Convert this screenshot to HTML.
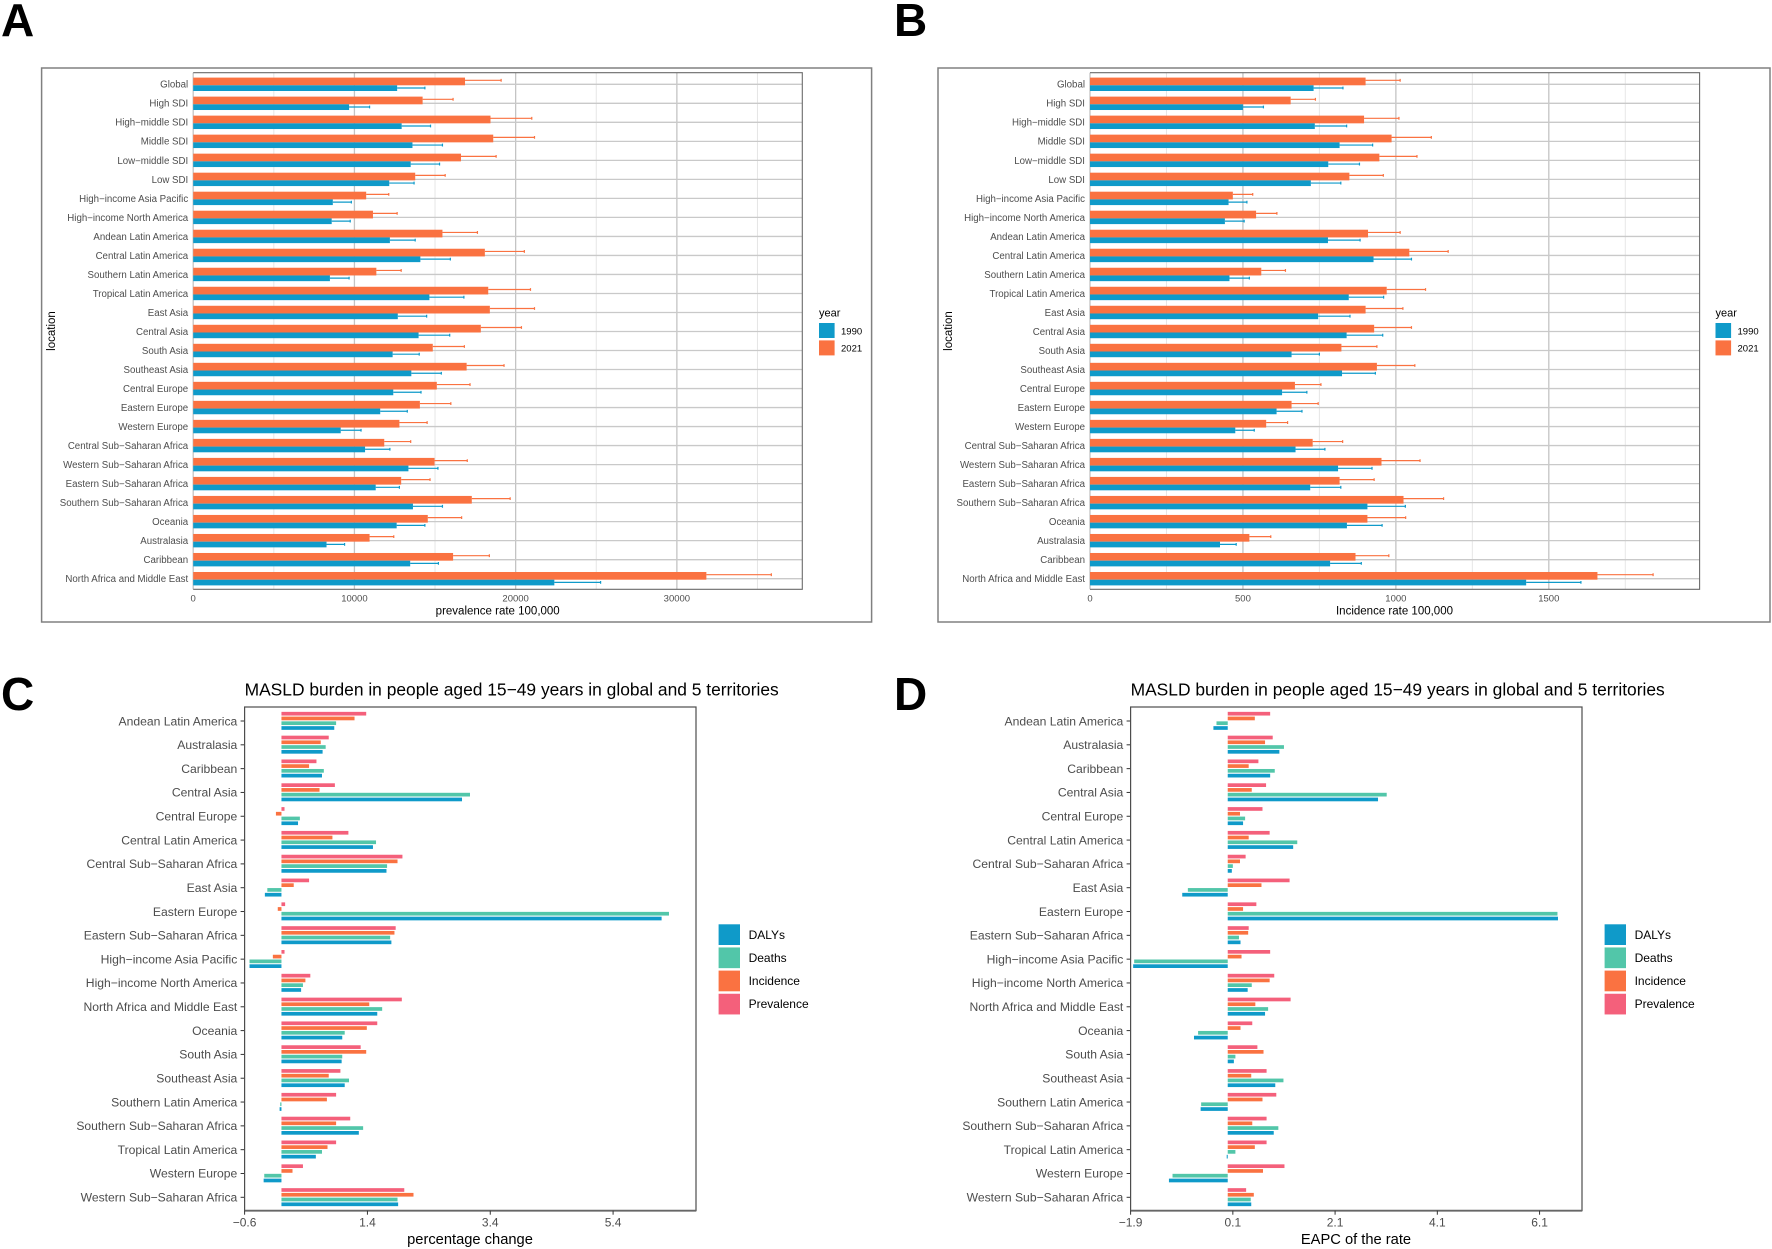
<!DOCTYPE html>
<html lang="en">
<head>
<meta charset="utf-8">
<title>MASLD burden charts</title>
<style>
html,body{margin:0;padding:0;background:#fff;overflow:hidden;}
svg{display:block;font-family:"Liberation Sans",Arial,sans-serif;filter:blur(0.3px);}
</style>
</head>
<body>
<svg id="figure" xmlns="http://www.w3.org/2000/svg" width="1772" height="1249" viewBox="0 0 1772 1249">
<rect x="0" y="0" width="1772" height="1249" fill="#fff"/>
<text x="1" y="36" font-size="46" font-weight="bold" fill="#000">A</text>
<text x="894" y="36" font-size="46" font-weight="bold" fill="#000">B</text>
<text x="1" y="710" font-size="46" font-weight="bold" fill="#000">C</text>
<text x="894" y="710" font-size="46" font-weight="bold" fill="#000">D</text>
<rect x="41.6" y="68" width="830" height="554" fill="none" stroke="#808080" stroke-width="1.5"/>
<rect x="938" y="68" width="832" height="554" fill="none" stroke="#808080" stroke-width="1.5"/>
</svg>
<script>
const categoriesAB = ["Global","High SDI","High−middle SDI","Middle SDI","Low−middle SDI","Low SDI","High−income Asia Pacific","High−income North America","Andean Latin America","Central Latin America","Southern Latin America","Tropical Latin America","East Asia","Central Asia","South Asia","Southeast Asia","Central Europe","Eastern Europe","Western Europe","Central Sub−Saharan Africa","Western Sub−Saharan Africa","Eastern Sub−Saharan Africa","Southern Sub−Saharan Africa","Oceania","Australasia","Caribbean","North Africa and Middle East"];
const prevalence2021 = [16860,14230,18440,18610,16610,13770,10730,11150,15460,18090,11360,18300,18400,17840,14860,16960,15110,14060,12790,11850,14970,12900,17280,14550,10940,16120,31830];
const prevalence2021Upper = [19100,16120,21000,21170,18790,15630,12130,12650,17630,20540,12900,20920,21170,20360,16820,19280,17170,15980,14510,13490,17000,14690,19660,16650,12440,18370,35860];
const prevalence1990 = [12650,9670,12930,13600,13490,12160,8660,8590,12200,14090,8480,14650,12690,13980,12370,13530,12410,11600,9150,10660,13350,11320,13630,12620,8270,13460,22400];
const prevalence1990Upper = [14370,10940,14720,15460,15280,13700,9810,9740,13770,15950,9670,16790,14480,15910,14020,15390,14130,13280,10410,12200,15180,12790,15460,14370,9390,15210,25270];
const incidence2021 = [901,656,896,986,946,848,467,543,909,1044,560,970,901,929,822,938,670,659,576,728,953,816,1025,907,521,868,1659];
const incidence2021Upper = [1014,737,1010,1116,1069,959,532,611,1014,1171,639,1097,1023,1051,938,1062,755,746,646,826,1079,929,1156,1032,591,977,1841];
const incidence1990 = [731,500,735,816,779,722,453,441,778,927,456,846,746,839,659,824,628,610,475,672,811,720,907,840,425,785,1426];
const incidence1990Upper = [827,567,839,924,881,820,513,504,883,1051,521,960,850,957,750,933,709,693,537,768,922,820,1031,955,478,887,1605];
const ticksA = [0,10000,20000,30000];
const minorTicksA = [5000,15000,25000,35000];
const ticksB = [0,500,1000,1500];
const minorTicksB = [250,750,1250,1750];
const yearLabels = ["1990","2021"];

const categoriesCD = ["Andean Latin America","Australasia","Caribbean","Central Asia","Central Europe","Central Latin America","Central Sub−Saharan Africa","East Asia","Eastern Europe","Eastern Sub−Saharan Africa","High−income Asia Pacific","High−income North America","North Africa and Middle East","Oceania","South Asia","Southeast Asia","Southern Latin America","Southern Sub−Saharan Africa","Tropical Latin America","Western Europe","Western Sub−Saharan Africa"];
const changePrevalence = [1.38,0.77,0.57,0.87,0.05,1.09,1.97,0.45,0.06,1.86,0.05,0.47,1.96,1.56,1.29,0.96,0.89,1.12,0.89,0.35,2.00];
const changeIncidence = [1.19,0.64,0.45,0.62,-0.09,0.83,1.89,0.20,-0.06,1.84,-0.14,0.39,1.43,1.39,1.38,0.77,0.74,0.89,0.75,0.18,2.15];
const changeDeaths = [0.89,0.72,0.69,3.07,0.30,1.54,1.72,-0.23,6.31,1.77,-0.52,0.35,1.64,1.03,0.99,1.10,-0.02,1.33,0.66,-0.28,1.89];
const changeDalys = [0.86,0.67,0.66,2.94,0.27,1.49,1.71,-0.27,6.19,1.79,-0.52,0.32,1.56,0.99,0.98,1.03,-0.03,1.26,0.56,-0.29,1.90];
const eapcPrevalence = [0.83,0.88,0.60,0.75,0.68,0.82,0.35,1.21,0.56,0.41,0.83,0.91,1.23,0.48,0.58,0.76,0.95,0.76,0.76,1.11,0.36];
const eapcIncidence = [0.53,0.73,0.41,0.47,0.24,0.41,0.24,0.66,0.30,0.40,0.27,0.82,0.54,0.25,0.70,0.46,0.68,0.48,0.53,0.69,0.51];
const eapcDeaths = [-0.22,1.10,0.92,3.11,0.34,1.36,0.10,-0.78,6.45,0.22,-1.83,0.47,0.79,-0.58,0.15,1.09,-0.52,0.99,0.15,-1.08,0.45];
const eapcDalys = [-0.28,1.01,0.83,2.94,0.30,1.28,0.08,-0.89,6.46,0.25,-1.85,0.39,0.73,-0.66,0.12,0.93,-0.53,0.90,-0.02,-1.15,0.46];
const ticksC = [-0.6,1.4,3.4,5.4];
const ticksD = [-1.9,0.1,2.1,4.1,6.1];
const measureLabels = ["DALYs","Deaths","Incidence","Prevalence"];

const BLUE = "#0f9ac9", ORANGE = "#fa7241", TEAL = "#52c6a9", PINK = "#f4607b";
const svg = document.getElementById("figure");
const NS = "http://www.w3.org/2000/svg";

function shape(tag, attrs) {
  const el = document.createElementNS(NS, tag);
  for (const k in attrs) el.setAttribute(k, attrs[k]);
  svg.appendChild(el);
  return el;
}
function label(str, x, y, size, fill, anchor) {
  const el = shape("text", {x: x, y: y + size * 0.35, "font-size": size, fill: fill, "text-anchor": anchor || "start"});
  el.textContent = str;
  return el;
}
function linearScale(d0, d1, r0, r1) {
  return v => r0 + (v - d0) * (r1 - r0) / (d1 - d0);
}
function fmtTick(v) {
  return (v < 0 ? "−" : "") + Math.abs(v);
}

function drawYearPanel(cfg) {
  const x = linearScale(cfg.domain[0], cfg.domain[1], cfg.left, cfg.right);
  const top = 72.7, bottom = 589.3, firstRow = 84.3, rowStep = 19.015;
  const rowY = i => firstRow + i * rowStep;
  const id = cfg.id;

  cfg.minor.forEach(t => {
    const el = shape("line", {x1: x(t), x2: x(t), y1: top, y2: bottom, stroke: "#e6e6e6", "stroke-width": 1});
    
    
  });
  cfg.ticks.forEach(t => {
    const el = shape("line", {x1: x(t), x2: x(t), y1: top, y2: bottom, stroke: "#c4c4c4", "stroke-width": 1.3});
    
    
  });
  categoriesAB.forEach((c, i) => {
    const grid = shape("line", {x1: cfg.left, x2: cfg.right, y1: rowY(i), y2: rowY(i), stroke: "#c9c9c9", "stroke-width": 1.3});
    
    

    const txt = label(c, cfg.left - 5, rowY(i), 9.7, "#4d4d4d", "end");
    
    

    const bar21 = shape("rect", {x: x(0), y: rowY(i) - 6.7, width: x(cfg.v2021[i]) - x(0), height: 7.7, fill: ORANGE});
    
    

    const bar90 = shape("rect", {x: x(0), y: rowY(i) + 1, width: x(cfg.v1990[i]) - x(0), height: 5.7, fill: BLUE});
    
    

    const err21 = shape("path", {d: "M" + x(cfg.v2021[i]) + " " + (rowY(i) - 4) + "H" + x(cfg.u2021[i]) + "m0 -1.4v2.8", fill: "none", stroke: ORANGE, "stroke-width": 1.2});
    
    

    const err90 = shape("path", {d: "M" + x(cfg.v1990[i]) + " " + (rowY(i) + 3.7) + "H" + x(cfg.u1990[i]) + "m0 -1.4v2.8", fill: "none", stroke: BLUE, "stroke-width": 1.2});
    
    
  });

  const border = shape("path", {d: "M" + cfg.left + " " + top + "H" + cfg.right + "V" + bottom + "H" + cfg.left, fill: "none", stroke: "#6b6b6b", "stroke-width": 1.1});
  
  

  cfg.ticks.forEach(t => {
    const tl = label(String(t), x(t), 598.3, 9.5, "#4d4d4d", "middle");
    
    
  });

  const xt = label(cfg.xTitle, cfg.xTitleX, 610.7, 11.5, "#000", "middle");
  
  

  const yt = label("location", 0, 0, 11.5, "#000", "middle");
  yt.setAttribute("transform", "translate(" + cfg.yTitleX + " 331) rotate(-90)");
  
  

  const lt = label("year", cfg.legendX + 0.5, 312.7, 11, "#000");
  
  

  yearLabels.forEach((y, i) => {
    const sw = shape("rect", {x: cfg.legendX + 0.5, y: 323 + i * 17.4, width: 15.6, height: 15, fill: i ? ORANGE : BLUE});
    
    
    const ll = label(y, cfg.legendX + 22.5, 331 + i * 17, 9.5, "#000");
    
    
  });
}

function drawMeasurePanel(cfg) {
  const off = cfg.offset;
  const left = 244.6 + off, right = 696 + off;
  const x = linearScale(cfg.domain[0], cfg.domain[1], left, right);
  const top = 707, bottom = 1210.7, firstRow = 721, rowStep = 23.815;
  const rowY = i => firstRow + i * rowStep;
  const id = cfg.id;
  const series = [
    {name: "prevalence", values: cfg.prevalence, color: PINK, dy: -7.3},
    {name: "incidence", values: cfg.incidence, color: ORANGE, dy: -2.55},
    {name: "deaths", values: cfg.deaths, color: TEAL, dy: 2.2},
    {name: "dalys", values: cfg.dalys, color: BLUE, dy: 7}
  ];

  const title = label("MASLD burden in people aged 15−49 years in global and 5 territories", left, 689.5, 17.4, "#000");
  
  

  categoriesCD.forEach((c, i) => {
    const tick = shape("line", {x1: left - 4, x2: left, y1: rowY(i), y2: rowY(i), stroke: "#333", "stroke-width": 1});
    
    

    const txt = label(c, left - 7.3, rowY(i), 12.15, "#4d4d4d", "end");
    
    

    series.forEach(s => {
      const v = s.values[i];
      const bar = shape("rect", {x: Math.min(x(0), x(v)), y: rowY(i) + s.dy - 1.85, width: Math.abs(x(v) - x(0)), height: 3.7, fill: s.color});
      
      
    });
  });

  const border = shape("rect", {x: left, y: top, width: right - left, height: bottom - top, fill: "none", stroke: "#4d4d4d", "stroke-width": 1.2});
  
  

  const baseLine = shape("line", {x1: left, x2: right, y1: bottom, y2: bottom, stroke: "#666", "stroke-width": 1.9});
  
  

  cfg.ticks.forEach(t => {
    const tm = shape("line", {x1: x(t), x2: x(t), y1: bottom, y2: bottom + 4, stroke: "#333", "stroke-width": 1});
    
    
    const tl = label(fmtTick(t), x(t), 1222.5, 12, "#4d4d4d", "middle");
    
    
  });

  const xt = label(cfg.xTitle, 470 + off, 1238.7, 14.7, "#000", "middle");
  
  

  const colors = [BLUE, TEAL, ORANGE, PINK];
  measureLabels.forEach((m, i) => {
    const sw = shape("rect", {x: 718.6 + off, y: 924.3 + i * 23.15, width: 21.4, height: 20.7, fill: colors[i]});
    
    
    const ll = label(m, 748.6 + off, 935 + i * 23, 12, "#000");
    
    
  });
}

drawYearPanel({id: "panel-a", domain: [0, 37780], left: 193.2, right: 802.3, ticks: ticksA, minor: minorTicksA,
  v2021: prevalence2021, u2021: prevalence2021Upper, v1990: prevalence1990, u1990: prevalence1990Upper,
  xTitle: "prevalence rate 100,000", xTitleX: 497.7, yTitleX: 51, legendX: 818.5});
drawYearPanel({id: "panel-b", domain: [0, 1993], left: 1090, right: 1699.6, ticks: ticksB, minor: minorTicksB,
  v2021: incidence2021, u2021: incidence2021Upper, v1990: incidence1990, u1990: incidence1990Upper,
  xTitle: "Incidence rate 100,000", xTitleX: 1394.5, yTitleX: 948, legendX: 1715});
drawMeasurePanel({id: "panel-c", offset: 0, domain: [-0.6, 6.75], ticks: ticksC, xTitle: "percentage change",
  prevalence: changePrevalence, incidence: changeIncidence, deaths: changeDeaths, dalys: changeDalys});
drawMeasurePanel({id: "panel-d", offset: 886, domain: [-1.9, 6.93], ticks: ticksD, xTitle: "EAPC of the rate",
  prevalence: eapcPrevalence, incidence: eapcIncidence, deaths: eapcDeaths, dalys: eapcDalys});
</script>
</body>
</html>
